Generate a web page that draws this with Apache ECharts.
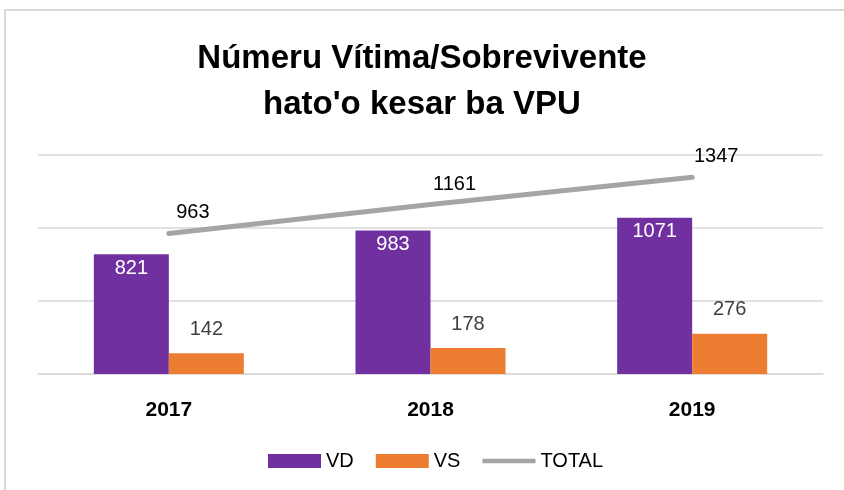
<!DOCTYPE html>
<html>
<head>
<meta charset="utf-8">
<script src="https://cdn.jsdelivr.net/npm/echarts@6/dist/echarts.min.js"></script>
<style>
  html, body { margin: 0; padding: 0; background: #fff; }
  #chart { width: 844px; height: 490px; }
</style>
</head>
<body>
<div id="chart"></div>
<script>
const years = ['2017', '2018', '2019'];
const vd = [821, 983, 1071];
const vs = [142, 178, 276];
const total = [963, 1161, 1347];

const chart = echarts.init(document.getElementById('chart'));

const font = '"Liberation Sans", Arial, sans-serif';

const option = {
  backgroundColor: '#fff',
  textStyle: { fontFamily: font },
  graphic: [
    {
      type: 'rect',
      shape: { x: 5, y: 10, width: 860, height: 500 },
      style: { fill: 'none', stroke: '#d9d9d9', lineWidth: 2 },
      silent: true
    }
  ],
  title: {
    text: 'Númeru Vítima/Sobrevivente\nhato\'o kesar ba VPU',
    left: 'center',
    top: 31,
    textStyle: {
      fontFamily: font,
      fontSize: 33,
      fontWeight: 'bold',
      lineHeight: 46,
      color: '#000'
    }
  },
  legend: {
    bottom: 14,
    left: 263,
    itemWidth: 53,
    itemHeight: 14,
    itemGap: 22,
    textStyle: { fontSize: 20, color: '#000', fontFamily: font },
    data: [
      { name: 'VD', icon: 'rect' },
      { name: 'VS', icon: 'rect' },
      { name: 'TOTAL', icon: 'path://M0,0 L56,0 L56,5 L0,5 Z' }
    ]
  },
  grid: { left: 38, right: 21, top: 155, bottom: 116, containLabel: false },
  xAxis: {
    type: 'category',
    data: years,
    axisTick: { show: false },
    axisLine: { lineStyle: { color: '#d9d9d9', width: 1.5 } },
    axisLabel: { fontSize: 21, fontWeight: 'bold', color: '#000', margin: 26 }
  },
  yAxis: {
    type: 'value',
    min: 0,
    max: 1500,
    interval: 500,
    axisLabel: { show: false },
    axisLine: { show: false },
    axisTick: { show: false },
    splitLine: { lineStyle: { color: '#d9d9d9', width: 1.5 } }
  },
  series: [
    {
      name: 'VD',
      type: 'bar',
      data: vd,
      barWidth: 75,
      barGap: '0%',
      itemStyle: { color: '#7030a0' },
      label: {
        show: true,
        position: 'insideTop',
        distance: 4,
        color: '#fff',
        fontSize: 20,
        fontFamily: font
      }
    },
    {
      name: 'VS',
      type: 'bar',
      data: vs,
      barWidth: 75,
      barGap: '0%',
      itemStyle: { color: '#ed7d31' },
      label: {
        show: true,
        position: 'top',
        distance: 14,
        color: '#404040',
        fontSize: 20,
        fontFamily: font
      }
    },
    {
      name: 'TOTAL',
      type: 'line',
      data: total,
      symbol: 'circle',
      symbolSize: 1,
      itemStyle: { color: '#a5a5a5' },
      lineStyle: { color: '#a5a5a5', width: 5, cap: 'round' },
      label: {
        show: true,
        position: 'top',
        distance: 10,
        offset: [24, 0],
        color: '#000',
        fontSize: 20,
        fontFamily: font
      }
    }
  ]
};

chart.setOption(option);
</script>
</body>
</html>
